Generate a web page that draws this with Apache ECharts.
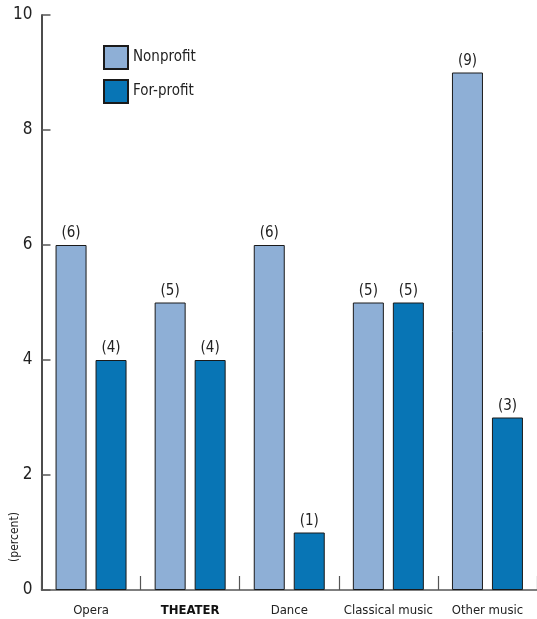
<!DOCTYPE html>
<html>
<head>
<meta charset="utf-8">
<script src="https://cdn.jsdelivr.net/npm/echarts@6/dist/echarts.min.js"></script>
<style>
  html, body { margin: 0; padding: 0; background: #fff; }
  #chart { width: 537px; height: 619px; }
</style>
</head>
<body>
<div id="chart"></div>
<script>
// Share of organizations by arts discipline (percent)
const categories = ['Opera', 'THEATER', 'Dance', 'Classical music', 'Other music'];
const nonprofit = [6, 5, 6, 5, 9];
const forProfit = [4, 4, 1, 5, 3];
const yTicks = [0, 2, 4, 6, 8, 10];

const FONT = '"Liberation Sans Narrow", "DejaVu Sans Condensed", "Liberation Sans", sans-serif';

const chart = echarts.init(document.getElementById('chart'), null, { renderer: 'canvas' });

const valueLabel = {
  show: true,
  position: 'top',
  distance: 4,
  formatter: p => '(' + p.value + ')',
  fontFamily: FONT,
  fontSize: 15,
  color: '#222'
};

chart.setOption({
  animation: false,
  backgroundColor: '#fff',
  textStyle: { fontFamily: FONT },
  grid: { left: 41.5, right: -4.5, top: 15, bottom: 29, containLabel: false },
  legend: {
    orient: 'vertical',
    left: 98,
    top: 40,
    itemWidth: 24,
    itemHeight: 23,
    itemGap: 9,
    itemTextGap: 6,
    icon: 'rect',
    textStyle: { fontFamily: FONT, fontSize: 15, color: '#222' },
    data: ['Nonprofit', 'For-profit']
  },
  xAxis: {
    type: 'category',
    data: categories,
    axisLine: { lineStyle: { color: '#555', width: 1.5 } },
    axisTick: { show: true, inside: true, length: 14, interval: 0, lineStyle: { color: '#555', width: 1.2 } },
    axisLabel: {
      interval: 0,
      margin: 14,
      fontFamily: FONT,
      fontSize: 13,
      color: '#222',
      formatter: v => v === 'THEATER' ? '{b|' + v + '}' : v,
      rich: { b: { fontFamily: FONT, fontSize: 13, fontWeight: 'bold', color: '#111' } }
    }
  },
  yAxis: {
    type: 'value',
    min: yTicks[0],
    max: yTicks[yTicks.length - 1],
    interval: 2,
    splitLine: { show: false },
    axisLine: { show: true, lineStyle: { color: '#111', width: 1.5 } },
    axisTick: { show: true, inside: true, length: 9, lineStyle: { color: '#555', width: 1.5 } },
    axisLabel: { margin: 9, fontFamily: FONT, fontSize: 17, color: '#222', verticalAlign: 'middle', padding: [3, 0, 0, 0] }
  },
  graphic: [{
    type: 'text',
    x: 15,
    y: 537,
    rotation: Math.PI / 2,
    style: {
      text: '(percent)',
      fontFamily: FONT,
      fontSize: 12,
      fill: '#222',
      textAlign: 'center',
      textVerticalAlign: 'middle'
    }
  }],
  series: [
    {
      name: 'Nonprofit',
      type: 'bar',
      data: nonprofit,
      barWidth: 31,
      barGap: '29%',
      itemStyle: { color: '#8eafd6', borderColor: '#1a1a1a', borderWidth: 1 },
      label: valueLabel
    },
    {
      name: 'For-profit',
      type: 'bar',
      data: forProfit,
      barWidth: 31,
      barGap: '29%',
      itemStyle: { color: '#0875b5', borderColor: '#1a1a1a', borderWidth: 1 },
      label: valueLabel
    }
  ]
});
</script>
</body>
</html>
